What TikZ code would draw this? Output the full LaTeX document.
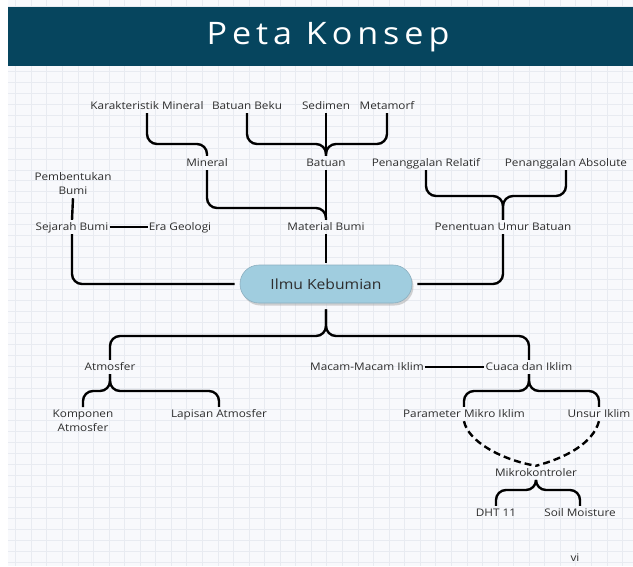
\documentclass[tikz,border=0pt]{standalone}
\usepackage{fontspec}
\setmainfont{Open Sans}[FakeStretch=1.12]
\newfontfamily\titlefont{Open Sans}[LetterSpace=16, FakeStretch=1.1]
\usetikzlibrary{shadows}
\definecolor{headcol}{RGB}{6,69,94}
\definecolor{gridbg}{RGB}{248,249,252}
\definecolor{gridline}{RGB}{232,235,241}
\definecolor{textcol}{RGB}{45,45,45}
\definecolor{ilmufill}{RGB}{160,205,223}
\definecolor{ilmudraw}{RGB}{140,175,192}
\tikzset{
  lbl/.style={text=textcol, inner xsep=1pt, inner ysep=2.5pt, text height=7.5pt, text depth=1.5pt,
    font=\fontsize{10.5}{14}\selectfont},
  lbltwo/.style={text=textcol, inner xsep=1pt, inner ysep=3pt, align=center,
    font=\fontsize{10.5}{14}\selectfont},
  conn/.style={line width=2.4pt, black, rounded corners=10pt},
  dconn/.style={line width=2.4pt, black, dash pattern=on 7pt off 4pt},
}
\begin{document}
\begin{tikzpicture}[x=1pt,y=-1pt]
\useasboundingbox (0,0) rectangle (633,566);
\fill[white] (0,0) rectangle (633,566);
\fill[gridbg] (8,0) rectangle (633,566);
\begin{scope}
\clip (8,0) rectangle (633,566);
\foreach \i in {1,...,41} \draw[gridline, line width=0.8pt] ({0.1+15.56*\i},0) -- ++(0,566);
\foreach \j in {0,...,52} \draw[gridline, line width=0.8pt] (8,{6.4+10.9*\j}) -- ++(625,0);
\end{scope}
% header
\fill[headcol] (8,7) rectangle (633,66);
\node[text=white, font=\titlefont\fontsize{31}{34}\selectfont] (title) at (328,37) {Peta Konsep};

% nodes
\node[lbl] (karak) at (147,106) {Karakteristik Mineral};
\node[lbl] (beku) at (247,106) {Batuan Beku};
\node[lbl] (sedimen) at (326,106) {Sedimen};
\node[lbl] (metamorf) at (387,106) {Metamorf};
\node[lbl] (mineral) at (207,163) {Mineral};
\node[lbl] (batuan) at (326,163) {Batuan};
\node[lbl] (relatif) at (426,163) {Penanggalan Relatif};
\node[lbl] (absolute) at (566,163) {Penanggalan Absolute};
\node[lbltwo] (pemb) at (73,184) {Pembentukan\\Bumi};
\node[lbl] (sejarah) at (72,227) {Sejarah Bumi};
\node[lbl] (era) at (180,227) {Era Geologi};
\node[lbl] (material) at (326,227) {Material Bumi};
\node[lbl] (penentuan) at (503,227) {Penentuan Umur Batuan};
\node[rounded corners=19pt, minimum width=172pt, minimum height=38pt, fill=ilmufill, draw=ilmudraw,
  line width=0.6pt, text=textcol, font=\fontsize{14}{16}\selectfont,
  drop shadow={shadow xshift=1.5pt, shadow yshift=-2.5pt, fill=black!35}] (ilmu) at (326,284) {Ilmu Kebumian};
\node[lbl] (atmosfer) at (110,367) {Atmosfer};
\node[lbl] (macam) at (367,367) {Macam-Macam Iklim};
\node[lbl] (cuaca) at (529,367) {Cuaca dan Iklim};
\node[lbltwo] (komponen) at (83,421) {Komponen\\Atmosfer};
\node[lbl] (lapisan) at (219,414) {Lapisan Atmosfer};
\node[lbl] (param) at (464,414) {Parameter Mikro Iklim};
\node[lbl] (unsur) at (599,414) {Unsur Iklim};
\node[lbl] (mikro) at (536,473) {Mikrokontroler};
\node[lbl] (dht) at (496,513) {DHT 11};
\node[lbl] (soil) at (580,513) {Soil Moisture};
\node[lbl] (vi) at (575,558) {vi};

% junctions
\coordinate (jBat) at (326,144);
\coordinate (jMat) at (326,208);
\coordinate (jPen) at (503,196);
\coordinate (jLow) at (326,336);
\coordinate (jAtm) at (110,391);
\coordinate (jCua) at (529,391);
\coordinate (jMik) at (536,490);

% connectors (upper)
\draw[conn] (karak.south) |- (mineral.north |- 0,144) -- (mineral.north);
\draw[conn] (beku.south) |- (jBat) -- (batuan.north);
\draw[conn] (metamorf.south) |- (jBat) -- (batuan.north);
\draw[conn] (sedimen.south) -- (batuan.north);
\draw[conn] (mineral.south) |- (jMat) -- (material.north);
\draw[conn] (batuan.south) -- (material.north);
\draw[conn] (relatif.south) |- (jPen) -- (penentuan.north);
\draw[conn] (absolute.south) |- (jPen) -- (penentuan.north);
\draw[conn] (pemb.south) -- (sejarah.north);
\draw[conn] (sejarah.east) -- (era.west);
\draw[conn, shorten >=5pt] (sejarah.south) |- (ilmu.west);
\draw[conn, shorten >=5pt] (penentuan.south) |- (ilmu.east);
\draw[conn, shorten >=2pt] (material.south) -- (ilmu.north);

% lower
\draw[conn, shorten <=6pt] (ilmu.south) -- (jLow) -| (atmosfer.north);
\draw[conn, shorten <=6pt] (ilmu.south) -- (jLow) -| (cuaca.north);
\draw[conn] (atmosfer.south) -- (jAtm) -| (komponen.north);
\draw[conn] (atmosfer.south) -- (jAtm) -| (lapisan.north);
\draw[conn] (macam.east) -- (cuaca.west);
\draw[conn] (cuaca.south) -- (jCua) -| (param.north);
\draw[conn] (cuaca.south) -- (jCua) -| (unsur.north);
\draw[dconn] (param.south) .. controls +(4,20) and +(-35,-6) .. (mikro.north);
\draw[dconn] (unsur.south) .. controls +(-6,22) and +(30,-8) .. (mikro.north);
\draw[conn] (mikro.south) -- (jMik) -| (dht.north);
\draw[conn] (mikro.south) -- (jMik) -| (soil.north);
\end{tikzpicture}
\end{document}
